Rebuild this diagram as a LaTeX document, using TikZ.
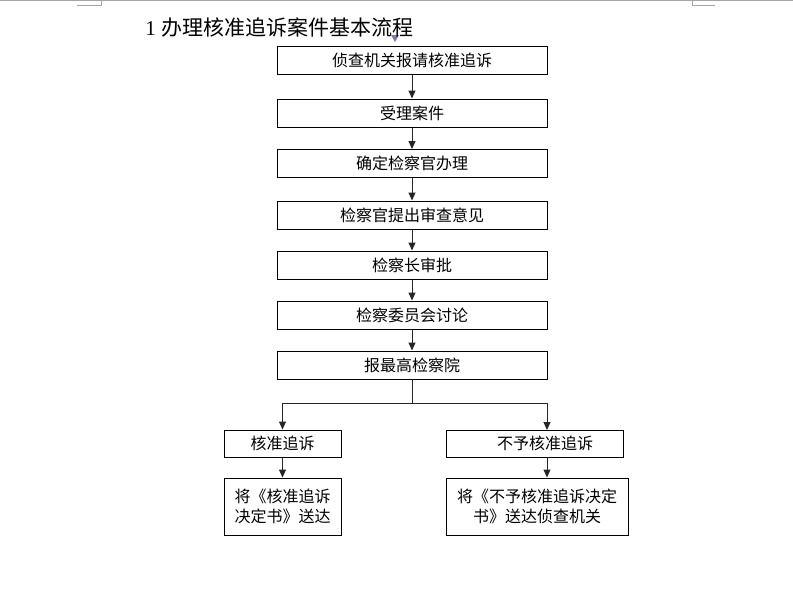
\documentclass[tikz,border=0pt]{standalone}
\usepackage{fontspec}
\setmainfont{Liberation Serif}
\newfontfamily\cjk{Noto Sans CJK SC}
\usetikzlibrary{arrows.meta}

\begin{document}
\begin{tikzpicture}[x=0.75pt,y=-0.75pt]
	\tikzset{box/.style = {shape=rectangle,draw,line width=0.75pt,inner sep=0pt,
			minimum width=202.5pt,minimum height=21pt,align=center,
			font=\cjk\fontsize{12}{15}\selectfont}}
	\tikzset{flow/.style = {->,>={Triangle[length=6pt,width=5.25pt]},line width=0.75pt,draw=black!85}}
	\tikzset{pagemark/.style = {draw=black!35,line width=0.75pt}}
	\useasboundingbox (0,0) rectangle (793,600);
	% page marks
	\draw[pagemark] (0,0.5) -- (793,0.5);
	\draw[pagemark] (77,5) -- (101,5) -- (101,0);
	\draw[pagemark] (692,0) -- (692,5) -- (715,5);
	\fill[blue!30!gray!80] (391,35) -- (399,35) -- (395,42) -- cycle;
	% title
	\node[anchor=west,inner sep=0pt,font=\fontsize{15.75}{18}\selectfont] (title) at (145,27) {1 {\cjk 办理核准追诉案件基本流程}};
	% boxes
	\node[box] (report) at (412,60) {侦查机关报请核准追诉};
	\node[box] (accept) at (412,113) {受理案件};
	\node[box] (assign) at (412,163.5) {确定检察官办理};
	\node[box] (opinion) at (412,215) {检察官提出审查意见};
	\node[box] (chief) at (412,265) {检察长审批};
	\node[box] (committee) at (412,315) {检察委员会讨论};
	\node[box] (supreme) at (412,365) {报最高检察院};
	\node[box,minimum width=87.75pt,minimum height=20.25pt] (approve) at (282.5,443.5) {核准追诉};
	\node[box,minimum width=87.75pt,minimum height=42.75pt] (sendyes) at (282.5,506.5) {将《核准追诉\\决定书》送达};
	\node[box,minimum width=132.75pt,minimum height=20.25pt] (refuse) at (534.5,443.5) {\hspace{15.75pt}不予核准追诉};
	\node[box,minimum width=136.5pt,minimum height=42.75pt] (sendno) at (537,506.5) {将《不予核准追诉决定\\书》送达侦查机关};
	% connectors
	\coordinate (split) at (412,403);
	\coordinate (noin) at (547,430);
	\coordinate (noout) at (547,457);
	\draw[flow] (report) -- (accept);
	\draw[flow] (accept) -- (assign);
	\draw[flow] (assign) -- (opinion);
	\draw[flow] (opinion) -- (chief);
	\draw[flow] (chief) -- (committee);
	\draw[flow] (committee) -- (supreme);
	\draw[flow,-] (supreme) -- (split);
	\draw[flow] (split) -| (approve);
	\draw[flow] (split) -| (noin);
	\draw[flow] (approve) -- (sendyes);
	\draw[flow] (noout) -- (noout |- sendno.north);
\end{tikzpicture}
\end{document}
